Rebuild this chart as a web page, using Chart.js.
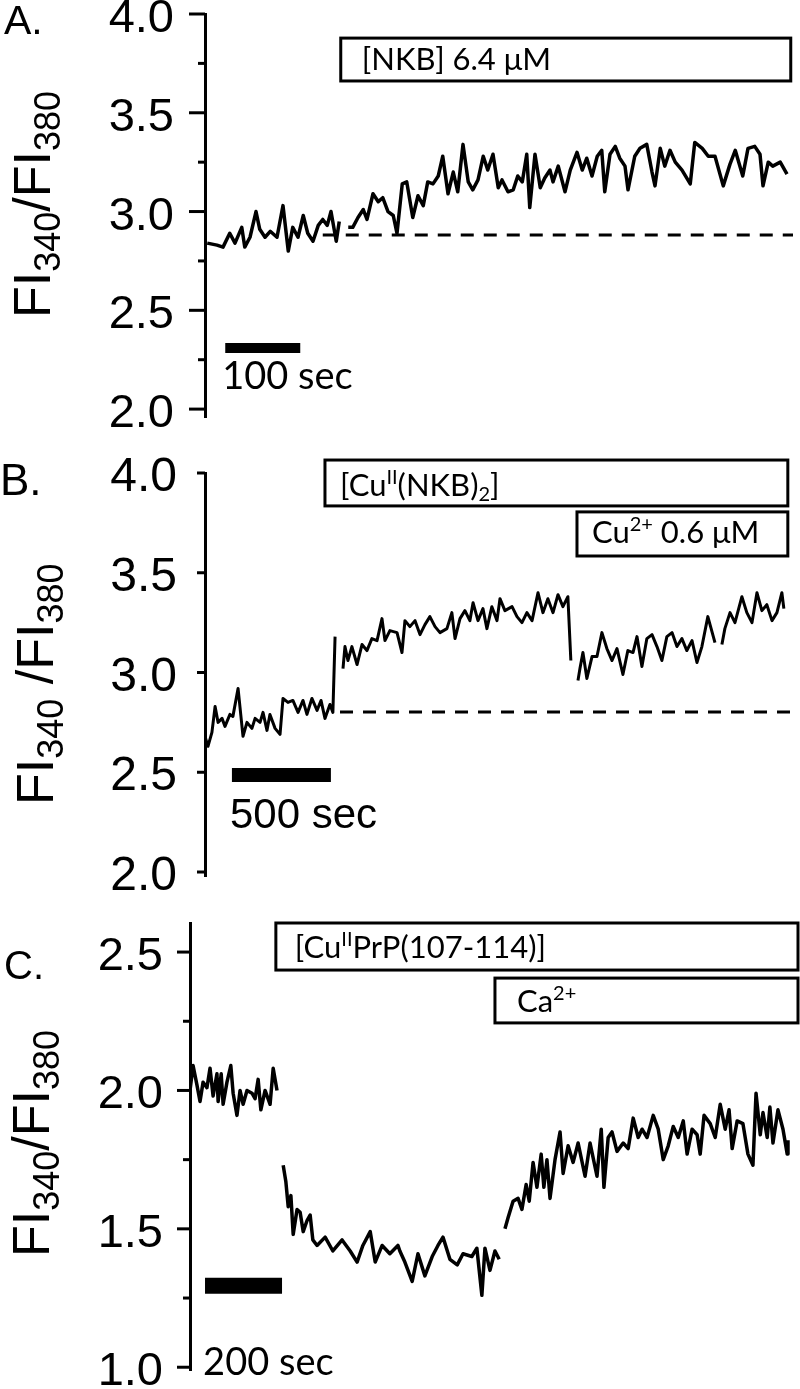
<!DOCTYPE html>
<html>
<head>
<meta charset="utf-8">
<script src="https://cdn.jsdelivr.net/npm/chart.js@4.4.1/dist/chart.umd.min.js"></script>
<style>
  html, body { margin: 0; padding: 0; background: #fff; }
  #wrap { position: relative; width: 800px; height: 1389px; }
  canvas { position: absolute; left: 0; }
</style>
</head>
<body>
<div id="wrap">
  <canvas id="chartA" width="800" height="440" style="top:0"></canvas>
  <canvas id="chartB" width="800" height="450" style="top:440px"></canvas>
  <canvas id="chartC" width="800" height="499" style="top:890px"></canvas>
</div>
<script>
// time in sec, value = FI340/FI380 ratio; null marks a break in the recording

// Panel A: [NKB] 6.4 uM
const timeA = [
  3, 16, 24, 33, 40, 49, 53, 60, 68, 73,
  80, 87, 96, 104, 111, 117, 124, 131, 137, 144,
  151, 157, 163, 168, 175, 179,
  185,
  191, 197, 204, 211, 216, 224, 231, 237, 244, 251,
  256, 263, 269, 277, 284, 291, 297, 304, 311, 317,
  324, 331, 337, 344, 351, 357, 364, 371, 377, 384,
  391, 396, 404, 411, 417, 423, 429, 433, 440, 447,
  453, 460, 464, 471, 480, 487, 496, 503, 509, 516,
  523, 529, 533, 540, 547, 553, 560, 564, 573, 580,
  589, 596, 600, 607, 613, 620, 627, 636, 647, 653,
  663, 671, 680, 691, 700, 707, 717, 724, 733, 740,
  744, 751, 757, 767, 776
];
const ratioA = [
  2.84, 2.83, 2.82, 2.89, 2.84, 2.92, 2.82, 2.87, 3.00, 2.91,
  2.87, 2.90, 2.87, 3.03, 2.80, 2.92, 2.87, 2.98, 2.89, 2.85,
  2.93, 2.96, 2.93, 3.00, 2.85, 2.95,
  null,
  2.92, 2.92, 2.97, 3.01, 2.96, 3.09, 3.05, 3.07, 3.00, 2.98,
  2.89, 3.14, 3.15, 2.97, 3.08, 3.03, 3.15, 3.14, 3.18, 3.28,
  3.09, 3.20, 3.10, 3.34, 3.15, 3.11, 3.16, 3.28, 3.21, 3.29,
  3.12, 3.16, 3.10, 3.11, 3.18, 3.15, 3.29, 3.02, 3.29, 3.12,
  3.17, 3.21, 3.15, 3.23, 3.10, 3.21, 3.30, 3.21, 3.27, 3.18,
  3.28, 3.31, 3.10, 3.29, 3.33, 3.27, 3.23, 3.11, 3.28, 3.32,
  3.34, 3.20, 3.13, 3.32, 3.23, 3.31, 3.25, 3.21, 3.14, 3.35,
  3.32, 3.28, 3.28, 3.13, 3.24, 3.31, 3.18, 3.32, 3.33, 3.29,
  3.13, 3.25, 3.23, 3.25, 3.19
];

// Panel B: [CuII(NKB)2], then Cu2+ 0.6 uM
const timeB = [
  0, 15, 35, 51, 66, 86, 101, 126, 141, 167,
  192, 212, 237, 253, 278, 293, 313, 328, 354, 379,
  394, 419, 444, 470, 495, 515, 540, 566, 586, 606,
  631, 646, 657,
  677,
  697, 707, 722, 742, 768, 793, 818, 843, 869, 894,
  909, 934, 970, 995, 1010, 1035, 1061, 1086, 1111, 1136,
  1162, 1187, 1222, 1247, 1263, 1288, 1313, 1338, 1354, 1379,
  1404, 1424, 1449, 1475, 1490, 1515, 1551, 1576, 1601, 1626,
  1652, 1682, 1707, 1732, 1758, 1783, 1808, 1833, 1848,
  1866,
  1884, 1894, 1909, 1929, 1955, 1980, 2005, 2030, 2056, 2081,
  2111, 2136, 2162, 2182, 2207, 2232, 2258, 2283, 2308, 2333,
  2359, 2384, 2409, 2434, 2460, 2485, 2510, 2540, 2576,
  2594,
  2611, 2626, 2652, 2677, 2712, 2737, 2763, 2788, 2813, 2838,
  2864, 2889, 2914, 2924
];
const ratioB = [
  2.68, 2.63, 2.70, 2.83, 2.75, 2.77, 2.73, 2.79, 2.78, 2.92,
  2.68, 2.75, 2.72, 2.77, 2.75, 2.80, 2.71, 2.79, 2.72, 2.69,
  2.87, 2.85, 2.86, 2.80, 2.86, 2.79, 2.87, 2.81, 2.86, 2.77,
  2.84, 2.80, 3.18,
  null,
  3.02, 3.13, 3.06, 3.13, 3.04, 3.14, 3.11, 3.17, 3.16, 3.27,
  3.16, 3.21, 3.20, 3.10, 3.26, 3.23, 3.26, 3.19, 3.24, 3.28,
  3.23, 3.20, 3.22, 3.30, 3.17, 3.27, 3.31, 3.26, 3.35, 3.26,
  3.32, 3.22, 3.33, 3.26, 3.37, 3.31, 3.33, 3.28, 3.25, 3.30,
  3.26, 3.40, 3.30, 3.37, 3.30, 3.39, 3.33, 3.38, 3.06,
  null,
  2.96, 3.02, 3.10, 2.97, 3.08, 3.08, 3.20, 3.12, 3.06, 3.12,
  2.99, 3.11, 3.10, 3.18, 3.03, 3.17, 3.19, 3.13, 3.06, 3.18,
  3.20, 3.13, 3.17, 3.11, 3.16, 3.05, 3.13, 3.28, 3.15,
  null,
  3.14, 3.22, 3.30, 3.25, 3.38, 3.30, 3.25, 3.40, 3.31, 3.34,
  3.26, 3.30, 3.40, 3.32
];

// Panel C: [CuIIPrP(107-114)], then Ca2+
const timeC = [
  0, 8, 18, 26, 34, 44, 52, 60, 70, 73,
  81, 86, 96, 106, 112, 122, 130, 138, 148, 161,
  169, 177, 184, 195, 208, 216, 226,
  234,
  242, 249, 255, 262, 268, 278, 286, 294, 304, 312,
  319, 330, 351, 371, 395, 416, 434, 449, 468, 481,
  499, 519, 540, 545, 558, 577, 592, 610, 629, 644,
  657, 675, 694, 709, 732, 745, 758, 766, 779, 792,
  803,
  810,
  818, 826, 839, 852, 862, 873, 881, 891, 901, 912,
  919, 927, 935, 948, 961, 969, 982, 995, 1008, 1026,
  1039, 1057, 1068, 1075, 1086, 1096, 1109, 1125, 1138, 1151,
  1164, 1174, 1187, 1203, 1216, 1229, 1242, 1255, 1268, 1281,
  1291, 1304, 1317, 1325, 1335, 1351, 1364, 1377, 1390, 1400,
  1408, 1421, 1436, 1449, 1462, 1470, 1481, 1488, 1499, 1506,
  1514, 1527, 1540, 1551, 1553
];
const ratioC = [
  2.00, 2.09, 2.02, 1.96, 2.03, 2.01, 2.08, 1.98, 2.06, 1.96,
  2.06, 1.95, 2.03, 2.09, 1.99, 1.91, 2.00, 1.95, 2.00, 1.99,
  1.97, 2.04, 1.93, 2.00, 1.95, 2.08, 2.00,
  null,
  1.73, 1.67, 1.58, 1.62, 1.48, 1.57, 1.56, 1.49, 1.53, 1.55,
  1.46, 1.44, 1.47, 1.42, 1.46, 1.42, 1.38, 1.44, 1.49, 1.38,
  1.44, 1.41, 1.44, 1.42, 1.38, 1.31, 1.41, 1.33, 1.40, 1.44,
  1.47, 1.39, 1.37, 1.41, 1.40, 1.43, 1.26, 1.43, 1.35, 1.42,
  1.39,
  null,
  1.50, 1.54, 1.60, 1.61, 1.57, 1.66, 1.60, 1.74, 1.65, 1.77,
  1.65, 1.75, 1.61, 1.75, 1.85, 1.70, 1.80, 1.74, 1.81, 1.69,
  1.81, 1.69, 1.86, 1.65, 1.83, 1.85, 1.78, 1.81, 1.79, 1.90,
  1.83, 1.86, 1.83, 1.91, 1.86, 1.75, 1.80, 1.87, 1.83, 1.89,
  1.77, 1.86, 1.84, 1.77, 1.91, 1.88, 1.83, 1.95, 1.86, 1.93,
  1.79, 1.89, 1.88, 1.77, 1.73, 1.99, 1.84, 1.92, 1.83, 1.94,
  1.81, 1.93, 1.86, 1.77, 1.82
];

const majorTicksA = [2.0, 2.5, 3.0, 3.5, 4.0];
const minorTicksA = [2.25, 2.75, 3.25, 3.75];
const majorTicksB = [2.0, 2.5, 3.0, 3.5, 4.0];
const majorTicksC = [1.0, 1.5, 2.0, 2.5];
const minorTicksC = [1.25, 1.75, 2.25];

const ARIAL = '"Liberation Sans", Arial, sans-serif';
const CALIBRI = 'Lato, "Open Sans", sans-serif';

function drawRich(ctx, parts, x, y, family) {
  let cx = x;
  parts.forEach(p => {
    ctx.font = `${p.size}px ${family}`;
    ctx.fillText(p.t, cx, y + (p.dy || 0));
    cx += ctx.measureText(p.t).width;
  });
}

function ratioTitle(gap) {
  return [
    { t: 'FI', size: 52 }, { t: '340', size: 36, dy: 10 },
    { t: (gap ? ' ' : '') + '/FI', size: 52 }, { t: '380', size: 36, dy: 10 }
  ];
}

// draws tick marks, stimulus boxes, scale bar caption, panel letter and y title
function decor(p) {
  return {
    id: 'decor' + p.letter,
    afterDraw(chart) {
      const { ctx } = chart;
      const xs = chart.scales.x, ys = chart.scales.y;
      const ax = chart.chartArea.left;
      ctx.save();
      ctx.strokeStyle = '#000';
      ctx.fillStyle = '#000';
      ctx.textBaseline = 'alphabetic';
      ctx.textAlign = 'left';

      ctx.lineWidth = 3;
      const tick = (v, len) => {
        const py = ys.getPixelForValue(v);
        ctx.beginPath();
        ctx.moveTo(ax - len, py);
        ctx.lineTo(ax, py);
        ctx.stroke();
      };
      p.major.forEach(v => tick(v, p.majorLen));
      (p.minor || []).forEach(v => tick(v, 7));

      p.boxes.forEach(b => {
        const l = xs.getPixelForValue(b.x0), r = xs.getPixelForValue(b.x1);
        const t = ys.getPixelForValue(b.y1), btm = ys.getPixelForValue(b.y0);
        ctx.lineWidth = 3;
        ctx.strokeRect(l, t, r - l, btm - t);
        drawRich(ctx, b.parts, l + b.padX, btm - b.padB, CALIBRI);
      });

      const c = p.barLabel;
      drawRich(ctx, [{ t: c.text, size: c.size }], xs.getPixelForValue(c.x), ys.getPixelForValue(c.y), c.font);

      ctx.font = `${p.letterSize}px ${ARIAL}`;
      ctx.fillText(p.letter + '.', p.letterPos[0], p.letterPos[1]);

      ctx.translate(p.titlePos[0], p.titlePos[1]);
      ctx.rotate(-Math.PI / 2);
      drawRich(ctx, p.title, 0, 0, ARIAL);
      ctx.restore();
    }
  };
}

function buildPanel(id, p) {
  const trace = p.time.map((t, i) => ({ x: t, y: p.ratio[i] }));
  const datasets = [{
    data: trace, borderColor: '#000', borderWidth: p.lineW,
    pointRadius: 0, tension: 0, spanGaps: false, borderJoinStyle: 'round'
  }];
  if (p.baseline) {
    datasets.push({
      data: [{ x: p.baseline.from, y: p.baseline.value }, { x: p.baseline.to, y: p.baseline.value }],
      borderColor: '#000', borderWidth: 3, borderDash: [13, 10], pointRadius: 0
    });
  }
  datasets.push({
    data: [{ x: p.bar.from, y: p.bar.value }, { x: p.bar.to, y: p.bar.value }],
    borderColor: '#000', borderWidth: p.bar.thick, borderCapStyle: 'butt', pointRadius: 0
  });

  return new Chart(document.getElementById(id), {
    type: 'line',
    data: { datasets },
    options: {
      responsive: false,
      animation: false,
      layout: { padding: { top: p.padTop, bottom: p.padBottom, left: 0, right: 800 - p.right } },
      plugins: { legend: { display: false }, tooltip: { enabled: false } },
      scales: {
        x: { type: 'linear', display: false, min: 0, max: p.xMax },
        y: {
          min: p.yMin, max: p.yMax,
          grid: { display: false, drawTicks: false },
          border: { display: true, color: '#000', width: 3 },
          ticks: {
            color: '#000', padding: p.labelPad, labelOffset: 5,
            font: { family: ARIAL, size: p.tickSize },
            callback: v => v.toFixed(1)
          },
          afterBuildTicks: s => { s.ticks = p.major.map(v => ({ value: v })); },
          afterFit: s => { s.width = p.axisX; s.paddingTop = 0; s.paddingBottom = 0; }
        }
      }
    },
    plugins: [decor(p)]
  });
}

buildPanel('chartA', {
  letter: 'A', letterSize: 41, letterPos: [4, 34],
  title: ratioTitle(false), titlePos: [50, 318],
  time: timeA, ratio: ratioA, lineW: 3.5,
  axisX: 205, right: 793, xMax: 784, yMin: 1.96, yMax: 4.0,
  padTop: 14, padBottom: 23, tickSize: 47, labelPad: 31,
  major: majorTicksA, minor: minorTicksA, majorLen: 16,
  baseline: { from: 157, to: 784, value: 2.881 },
  bar: { from: 27, to: 127, value: 2.309, thick: 10 },
  barLabel: { text: '100 sec', x: 23, y: 2.101, size: 38, font: CALIBRI },
  boxes: [
    { x0: 181, x1: 781, y0: 3.661, y1: 3.878, padX: 21, padB: 11,
      parts: [{ t: '[NKB] 6.4 \u03bcM', size: 31 }] }
  ]
});

buildPanel('chartB', {
  letter: 'B', letterSize: 44, letterPos: [0, 55],
  title: ratioTitle(true), titlePos: [53, 365],
  time: timeB, ratio: ratioB, lineW: 3,
  axisX: 205, right: 790, xMax: 2955, yMin: 1.98, yMax: 4.0,
  padTop: 33, padBottom: 14, tickSize: 48, labelPad: 28,
  major: majorTicksB, majorLen: 8,
  baseline: { from: 682, to: 2955, value: 2.802 },
  bar: { from: 136, to: 636, value: 2.486, thick: 14 },
  barLabel: { text: '500 sec', x: 126, y: 2.221, size: 42, font: ARIAL },
  boxes: [
    { x0: 606, x1: 2944, y0: 3.835, y1: 4.065, padX: 15, padB: 10,
      parts: [{ t: '[Cu', size: 31 }, { t: 'II', size: 20, dy: -12 }, { t: '(NKB)', size: 31 },
              { t: '2', size: 20, dy: 5 }, { t: ']', size: 31 }] },
    { x0: 1879, x1: 2944, y0: 3.584, y1: 3.805, padX: 15, padB: 13,
      parts: [{ t: 'Cu', size: 31 }, { t: '2+', size: 20, dy: -12 }, { t: ' 0.6 \u03bcM', size: 31 }] }
  ]
});

buildPanel('chartC', {
  letter: 'C', letterSize: 40, letterPos: [4, 89],
  title: ratioTitle(false), titlePos: [49, 367],
  time: timeC, ratio: ratioC, lineW: 3.5,
  axisX: 190, right: 798, xMax: 1579, yMin: 0.99, yMax: 2.605,
  padTop: 33, padBottom: 19, tickSize: 47, labelPad: 27,
  major: majorTicksC, minor: minorTicksC, majorLen: 13,
  bar: { from: 39, to: 239, value: 1.294, thick: 16 },
  barLabel: { text: '200 sec', x: 34, y: 0.972, size: 38, font: CALIBRI },
  boxes: [
    { x0: 223, x1: 1579, y0: 2.435, y1: 2.605, padX: 19, padB: 12,
      parts: [{ t: '[Cu', size: 31 }, { t: 'II', size: 20, dy: -12 }, { t: 'PrP(107-114)]', size: 31 }] },
    { x0: 792, x1: 1579, y0: 2.244, y1: 2.406, padX: 22, padB: 11,
      parts: [{ t: 'Ca', size: 31 }, { t: '2+', size: 20, dy: -12 }] }
  ]
});
</script>
</body>
</html>
